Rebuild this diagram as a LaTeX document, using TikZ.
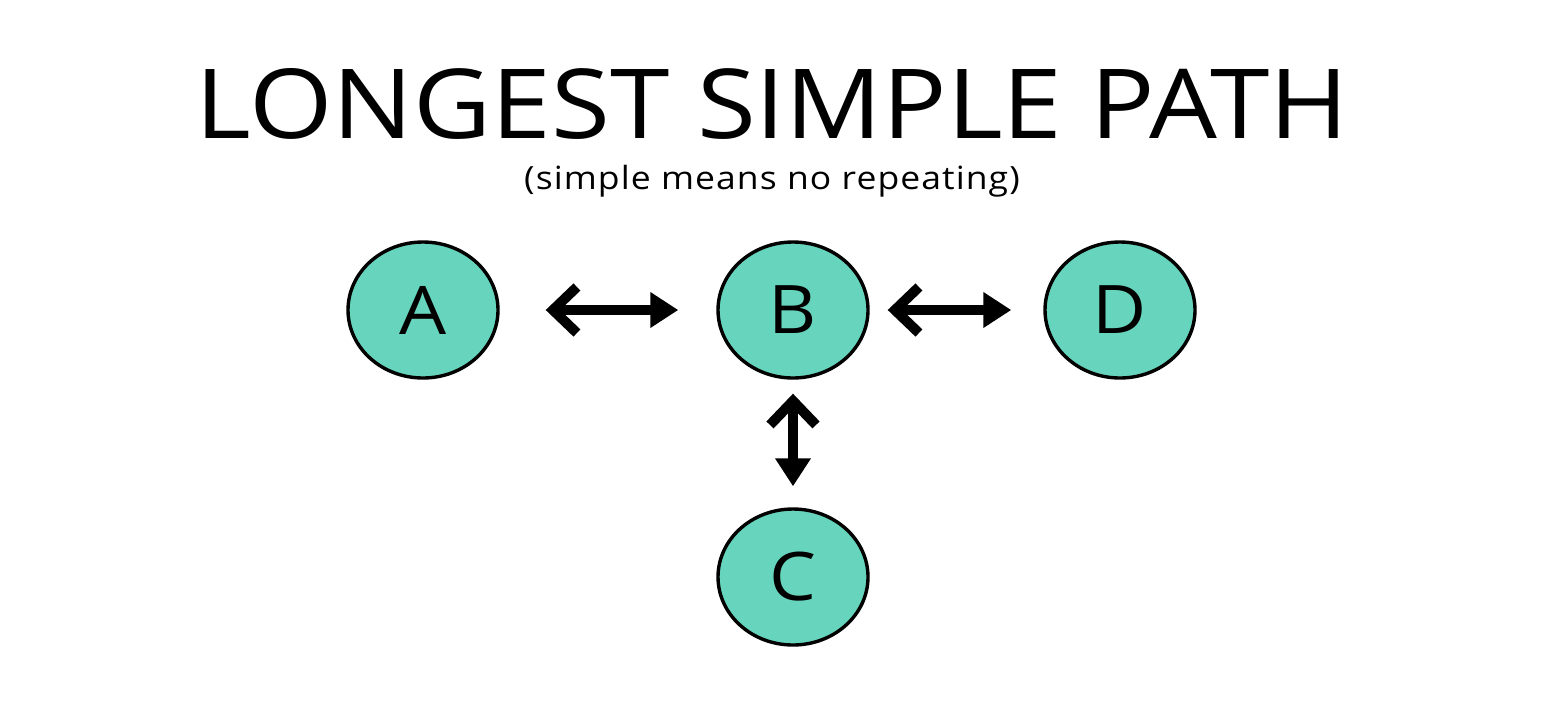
\documentclass[tikz,border=0pt]{standalone}
\usepackage{graphicx}
\usepackage{fontspec}
\setmainfont{Open Sans}
\newfontfamily\subfont[LetterSpace=3]{Open Sans}
\usetikzlibrary{shapes.geometric,arrows.meta}
\definecolor{teal1}{HTML}{67D4BD}
\newcommand{\wide}[1]{\scalebox{1.11}[1]{#1}}
\tikzset{
  vert/.style={ellipse, draw=black, line width=1.7pt, fill=teal1, minimum width=75pt, minimum height=68pt, inner sep=0pt, font=\fontsize{33.5}{33.5}\selectfont},
  link/.style={line width=5pt, {Straight Barb[length=12pt,width=23pt,line width=5pt]}-{Triangle[length=14pt,width=17pt]}}
}
\begin{document}
\begin{tikzpicture}[x=0.5pt,y=-0.5pt]
\useasboundingbox (0,0) rectangle (1556,724);
\node[anchor=base, font=\fontsize{48.3}{48.3}\selectfont] (title) at (772,138) {\wide{LONGEST SIMPLE PATH}};
\node[anchor=base, font=\subfont\fontsize{16}{16}\selectfont] (sub) at (772,189) {\wide{(simple means no repeating)}};
\node[vert] (A) at (423,310) {\wide{A}};
\node[vert] (B) at (793,310) {\wide{B}};
\node[vert] (D) at (1120,310) {\wide{D}};
\node[vert] (C) at (793,577) {\wide{C}};
\draw[link, shorten <=23pt, shorten >=19pt] (A) -- (B);
\draw[link, shorten <=9pt, shorten >=16pt] (B) -- (D);
\draw[link, shorten <=7pt, shorten >=10.5pt] (B) -- (C);
\end{tikzpicture}
\end{document}
